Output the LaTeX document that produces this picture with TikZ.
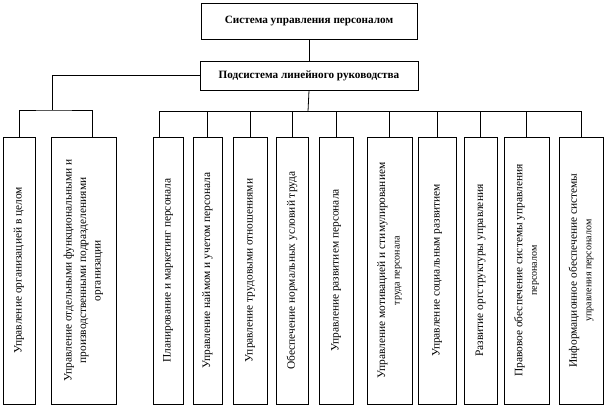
\documentclass[tikz,border=0pt]{standalone}
\usepackage{fontspec}
\setmainfont{Liberation Serif}
\usetikzlibrary{calc}

\begin{document}
\begin{tikzpicture}[x=1pt,y=-1pt,line width=.8pt,font=\fontsize{11.4}{14.5}\selectfont,
    head/.style={draw,minimum width=216pt,minimum height=36pt,font=\fontsize{11.2}{13}\selectfont\bfseries},
    func/.style={draw,rotate=90,minimum width=267pt,align=center,inner sep=1pt}]
                \useasboundingbox (0,0) rectangle (606,408);
                \node[head] (sys) at (309,21) {Система управления персоналом};
                \node[head,minimum width=218pt,minimum height=29pt] (sub) at (309,75.5) {Подсистема линейного руководства};
                \draw (sys)--(sub);
                \foreach \x/\w/\t [count=\i] in {
                    19/32/{Управление организацией в целом},
                    83.5/65/{Управление отдельными функциональными и\\производственными подразделениями\\организации},
                    168/30/{Планирование и маркетинг персонала},
                    207.5/29/{Управление наймом и учетом персонала},
                    250/34/{Управление трудовыми отношениями},
                    292/32/{Обеспечение нормальных условий труда},
                    336/34/{Управление развитием персонала},
                    389.5/45/{Управление мотивацией и стимулированием\\{\fontsize{10}{12}\selectfont труда персонала}},
                    437/38/{Управление социальным развитием},
                    480.5/33/{Развитие оргструктуры управления},
                    526.5/45/{Правовое обеспечение системы управления\\{\fontsize{10}{12}\selectfont персоналом}},
                    581/44/{Информационное обеспечение системы\\{\fontsize{10}{12}\selectfont управления персоналом}}}
                    \node[func,minimum height=\w pt] (b\i) at (\x,270.5) {\t};
                \coordinate (lbus) at (52,110);
                \coordinate (rbus) at (308,111.5);
                \draw (sub.west)-|(lbus);
                \draw (b1.east)|-(lbus)-|($(b2.north east)!.63!(b2.south east)$);
                \draw (sub.south)--(rbus);
                \draw ($(b3.north east)!.23!(b3.south east)$)|-(rbus-|b12.east)--(b12.east);
                \foreach \i in {4,...,11}
                    \draw (b\i.east)--(b\i.east|-rbus);
            \end{tikzpicture}
\end{document}
